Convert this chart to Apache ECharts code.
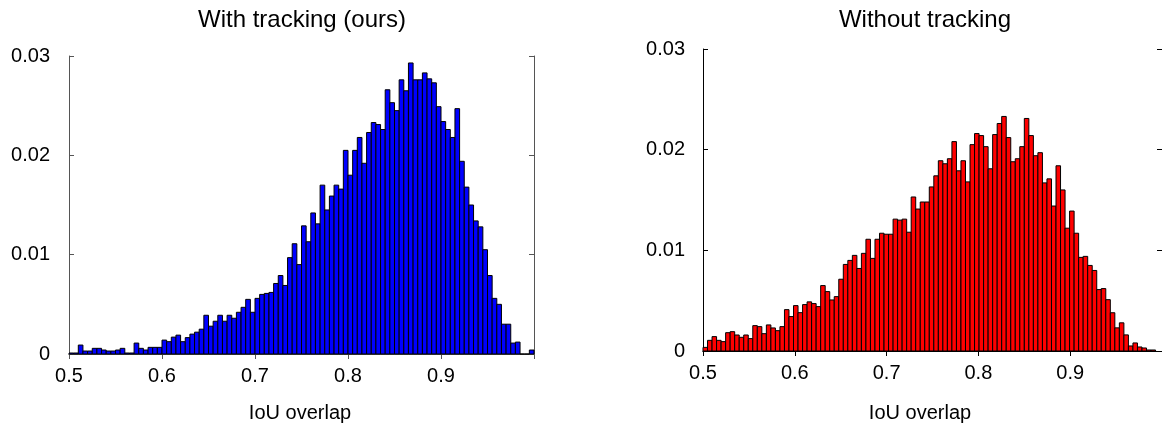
<!DOCTYPE html>
<html>
<head>
<meta charset="utf-8">
<title>IoU overlap histograms</title>
<script src="https://cdn.jsdelivr.net/npm/echarts@6/dist/echarts.min.js"></script>
<style>
  html, body { margin: 0; padding: 0; background: #fff; }
  #main { width: 1162px; height: 432px; }
</style>
</head>
<body>
<div id="main"></div>
<script>
// histogram bin heights (100 bins each)
var withTracking = [
  0.0001, 0.0001, 0.0009, 0.0003, 0.0003, 0.00057, 0.00057, 0.0004, 0.0003, 0.0003,
  0.0004, 0.00057, 0.0001, 0.0001, 0.0011, 0.00057, 0.0004, 0.00067, 0.00067, 0.00067,
  0.0014, 0.00124, 0.0017, 0.0019, 0.00124, 0.00165, 0.002, 0.0022, 0.0025, 0.0039,
  0.0028, 0.0033, 0.0039, 0.0033, 0.0039, 0.0036, 0.0042, 0.0047, 0.0055, 0.0042,
  0.0056, 0.006, 0.0061, 0.0062, 0.0071, 0.0079, 0.0069, 0.0097, 0.0111, 0.009,
  0.0129, 0.0113, 0.0142, 0.0131, 0.017, 0.0145, 0.0159, 0.017, 0.0166, 0.0205,
  0.018, 0.0205, 0.0218, 0.0192, 0.0223, 0.0233, 0.0231, 0.0226, 0.0266, 0.0253,
  0.0245, 0.0276, 0.0265, 0.0293, 0.0276, 0.0276, 0.0283, 0.0277, 0.0273, 0.0249,
  0.0234, 0.0226, 0.0218, 0.0247, 0.0194, 0.0168, 0.015, 0.0134, 0.0128, 0.0105,
  0.0079, 0.0056, 0.005, 0.0030, 0.0030, 0.0011, 0.0012, 0, 0, 0.0004
];
var withoutTracking = [
  0.00036, 0.00106, 0.00143, 0.00106, 0.00093, 0.00182, 0.00192, 0.00159, 0.00136, 0.00159,
  0.00123, 0.00252, 0.00242, 0.00172, 0.00259, 0.00229, 0.00202, 0.00242, 0.00411, 0.00342,
  0.00451, 0.00381, 0.00461, 0.00488, 0.00471, 0.00441, 0.0065, 0.0059, 0.00507, 0.0054,
  0.00713, 0.0086, 0.009, 0.0095, 0.0082, 0.0097, 0.0111, 0.0092, 0.0111, 0.0117,
  0.0116, 0.0116, 0.0131, 0.013, 0.0131, 0.0118, 0.0153, 0.0141, 0.0148, 0.0148,
  0.0163, 0.0174, 0.0189, 0.0186, 0.0191, 0.0208, 0.0179, 0.0189, 0.0168, 0.0205,
  0.0216, 0.0214, 0.0203, 0.0181, 0.0215, 0.0226, 0.0233, 0.0212, 0.0188, 0.0191,
  0.0203, 0.0231, 0.0214, 0.0194, 0.0197, 0.0167, 0.0171, 0.0144, 0.0184, 0.016,
  0.0122, 0.0139, 0.0117, 0.0093, 0.0094, 0.0085, 0.008, 0.0061, 0.0062, 0.0051,
  0.0038, 0.0023, 0.0028, 0.0016, 0.0005, 0.0008, 0.0004, 0.0003, 0.0001, 0.0001
];
var binStart = 0.5;
var binWidthLeft = 0.005;
var binWidthRight = 0.00493;

var titles = ['With tracking (ours)', 'Without tracking'];
var xLabel = 'IoU overlap';

var font = 'Liberation Sans, Arial, Helvetica, sans-serif';

function toBins(values, w) {
  return values.map(function (v, i) {
    return [binStart + i * w, binStart + (i + 1) * w, v];
  });
}

function histItem(params, api) {
  var top = api.coord([api.value(0), api.value(2)]);
  var base = api.coord([api.value(1), 0]);
  return {
    type: 'rect',
    shape: { x: top[0], y: top[1], width: base[0] - top[0], height: base[1] - top[1] },
    style: { fill: api.visual('color'), stroke: '#000', lineWidth: 1 }
  };
}

function xAxes(gridIndex, color) {
  var common = {
    type: 'value', gridIndex: gridIndex, min: 0.5, max: 1, interval: 0.1,
    splitLine: { show: false },
    axisLine: { show: true, lineStyle: { color: color, width: 1 } },
    axisTick: { show: true, inside: true, length: 5, lineStyle: { color: color } }
  };
  var bottom = Object.assign({}, common, {
    position: 'bottom',
    axisLabel: {
      fontFamily: font, fontSize: 20, color: '#000', margin: 12,
      showMaxLabel: false,
      formatter: function (v) { return v.toFixed(1); }
    }
  });
  var top = Object.assign({}, common, { position: 'top', axisLabel: { show: false } });
  return [bottom, top];
}

function yAxes(gridIndex, color, margin) {
  var common = {
    type: 'value', gridIndex: gridIndex, min: 0, max: 0.03, interval: 0.01,
    splitLine: { show: false },
    axisLine: { show: true, lineStyle: { color: color, width: 1 } },
    axisTick: { show: true, inside: true, length: 5, lineStyle: { color: color } }
  };
  var left = Object.assign({}, common, {
    position: 'left',
    axisLabel: {
      fontFamily: font, fontSize: 20, color: '#000', margin: margin,
      formatter: function (v) { return v === 0 ? '0' : String(parseFloat(v.toFixed(2))); }
    }
  });
  var right = Object.assign({}, common, { position: 'right', axisLabel: { show: false } });
  return [left, right];
}

var myChart = echarts.init(document.getElementById('main'), null, { renderer: 'canvas' });

var option = {
  animation: false,
  backgroundColor: '#fff',
  grid: [
    { left: 69, top: 56, width: 465, height: 298 },
    { left: 703, top: 49, width: 462, height: 302 }
  ],
  xAxis: xAxes(0, '#555').concat(xAxes(1, '#000')),
  yAxis: yAxes(0, '#555', 19).concat(yAxes(1, '#000', 18)),
  graphic: [
    { type: 'text', x: 302, y: 20, style: { text: titles[0], font: '24px ' + font, fill: '#000', textAlign: 'center', textVerticalAlign: 'middle' } },
    { type: 'text', x: 925, y: 20, style: { text: titles[1], font: '24px ' + font, fill: '#000', textAlign: 'center', textVerticalAlign: 'middle' } },
    { type: 'text', x: 300, y: 413, style: { text: xLabel, font: '20px ' + font, fill: '#000', textAlign: 'center', textVerticalAlign: 'middle' } },
    { type: 'text', x: 920, y: 413, style: { text: xLabel, font: '20px ' + font, fill: '#000', textAlign: 'center', textVerticalAlign: 'middle' } }
  ],
  series: [
    {
      type: 'custom', name: titles[0], xAxisIndex: 0, yAxisIndex: 0,
      renderItem: histItem, itemStyle: { color: '#0000ff' },
      encode: { x: [0, 1], y: 2 },
      data: toBins(withTracking, binWidthLeft)
    },
    {
      type: 'custom', name: titles[1], xAxisIndex: 2, yAxisIndex: 2,
      renderItem: histItem, itemStyle: { color: '#ff0000' },
      encode: { x: [0, 1], y: 2 },
      data: toBins(withoutTracking, binWidthRight)
    }
  ]
};
myChart.setOption(option);
</script>
</body>
</html>
